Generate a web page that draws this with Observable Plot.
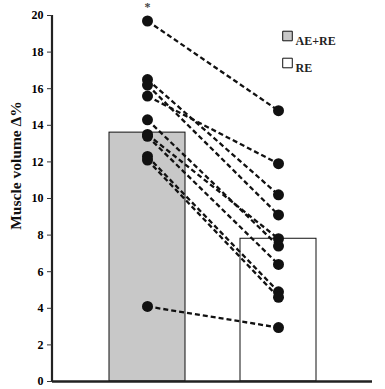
<!DOCTYPE html>
<html>
<head>
<meta charset="utf-8">
<script src="https://cdn.jsdelivr.net/npm/d3@7"></script>
<script src="https://cdn.jsdelivr.net/npm/@observablehq/plot@0.6"></script>
<style>
  html, body { margin: 0; padding: 0; background: #fff; }
</style>
</head>
<body>
<div id="chart"></div>
<script>
const groups = ["AE+RE", "RE"];
const groupMeans = [13.6, 7.8];
const groupFills = ["#c8c8c8", "#ffffff"];
const subjectAERE = [19.7, 16.5, 16.2, 15.6, 14.3, 13.5, 13.4, 12.3, 12.1, 4.1];
const subjectRE   = [14.8, 10.2, 9.1, 11.9, 7.4, 7.8, 6.4, 4.9, 4.6, 2.95];
const yTicks = [0, 2, 4, 6, 8, 10, 12, 14, 16, 18, 20];
const yLabel = "Muscle volume Δ%";
const significance = "*";

const bars = groups.map((g, i) => ({group: g, mean: groupMeans[i], fill: groupFills[i]}));
const links = subjectAERE.map((v, i) => ({a: v, b: subjectRE[i]}));
const dots = [
  ...subjectAERE.map(v => ({group: groups[0], v})),
  ...subjectRE.map(v => ({group: groups[1], v}))
];

const font = "'Liberation Serif', 'DejaVu Serif', serif";

const leftAxisLine = (index, scales, values, dim) => {
  const l = document.createElementNS("http://www.w3.org/2000/svg", "line");
  l.setAttribute("x1", dim.marginLeft);
  l.setAttribute("x2", dim.marginLeft);
  l.setAttribute("y1", dim.marginTop);
  l.setAttribute("y2", dim.height - dim.marginBottom + 1);
  l.setAttribute("stroke", "#222");
  l.setAttribute("stroke-width", 2.2);
  return l;
};

// legend entries: one square + label per group, stacked in the top-right corner
const legendMarks = groups.flatMap((g, i) => [
  Plot.dot([g], {
    frameAnchor: "top-right",
    dx: -85, dy: 20.5 + i * 27,
    symbol: "square", r: 5.4,
    fill: groupFills[i], stroke: "#111", strokeWidth: 1
  }),
  Plot.text([g], {
    frameAnchor: "top-right",
    dx: -77, dy: 21 + i * 27,
    textAnchor: "start",
    fontSize: 12, fontWeight: "bold", fill: "#222"
  })
]);

const chart = Plot.plot({
  width: 385,
  height: 389,
  marginLeft: 52,
  marginRight: 13,
  marginTop: 15,
  marginBottom: 8,
  style: {fontFamily: font, background: "#fff", overflow: "visible"},
  x: {domain: groups, paddingInner: 0.42, paddingOuter: 0.43, axis: null},
  y: {domain: [0, 20], axis: null},
  marks: [
    Plot.barY(bars, {x: "group", y: "mean", fill: "fill", stroke: "#111", strokeWidth: 1}),
    Plot.ruleY([0], {stroke: "#222", strokeWidth: 2.4}),
    leftAxisLine,
    Plot.axisY({
      ticks: yTicks,
      tickSize: 5,
      tickPadding: 4,
      tickFormat: d => d,
      fontSize: 12,
      fontWeight: "bold",
      stroke: "#333",
      strokeWidth: 1,
      label: null
    }),
    Plot.text([yLabel], {
      frameAnchor: "left",
      rotate: -90,
      textAnchor: "middle",
      dx: -36,
      dy: -33,
      fontSize: 15.5,
      fontWeight: "bold",
      fill: "#111"
    }),
    Plot.link(links, {
      x1: () => groups[0], x2: () => groups[1],
      y1: "a", y2: "b",
      stroke: "#111", strokeWidth: 2.3, strokeDasharray: "5,3"
    }),
    Plot.dot(dots, {x: "group", y: "v", r: 5.5, fill: "#111", stroke: "none"}),
    Plot.text([significance], {
      x: () => groups[0], y: () => d3.max(subjectAERE),
      dy: -14, fontSize: 12, fontWeight: "bold", fill: "#444"
    }),
    ...legendMarks
  ]
});
document.getElementById("chart").appendChild(chart);
</script>
</body>
</html>
